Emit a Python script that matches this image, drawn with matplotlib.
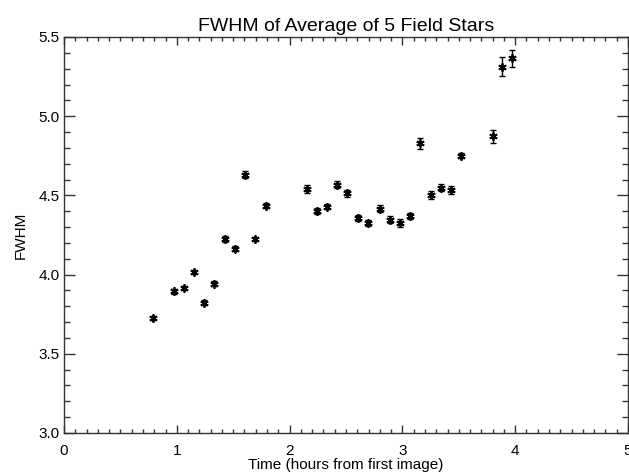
import matplotlib
matplotlib.use("Agg")
import matplotlib.pyplot as plt
from matplotlib.ticker import MultipleLocator

plt.rcParams['font.family'] = ['Liberation Sans', 'DejaVu Sans']

time_hours = [0.787, 0.975, 1.064, 1.155, 1.241, 1.333, 1.424, 1.513, 1.605, 1.696,
              1.788, 2.151, 2.240, 2.329, 2.417, 2.512, 2.602, 2.692, 2.801, 2.890,
              2.982, 3.070, 3.159, 3.251, 3.339, 3.431, 3.522, 3.800, 3.880, 3.969]
fwhm = [3.726, 3.894, 3.917, 4.014, 3.821, 3.943, 4.226, 4.163, 4.631, 4.226,
        4.436, 4.541, 4.400, 4.429, 4.568, 4.513, 4.356, 4.327, 4.415, 4.346,
        4.327, 4.369, 4.828, 4.503, 4.547, 4.536, 4.751, 4.872, 5.313, 5.366]
fwhm_err = [0.012, 0.014, 0.014, 0.013, 0.016, 0.018, 0.02, 0.016, 0.02, 0.012,
            0.016, 0.024, 0.02, 0.018, 0.024, 0.022, 0.02, 0.02, 0.022, 0.022,
            0.024, 0.02, 0.035, 0.024, 0.022, 0.026, 0.016, 0.041, 0.058, 0.054]

title = "FWHM of Average of 5 Field Stars"
xlabel = "Time (hours from first image)"
ylabel = "FWHM"

fig = plt.figure(figsize=(6.29, 4.74), dpi=100)
ax = fig.add_axes([64/629, 1 - 433/474, (628-64)/629, (433-37)/474])

ax.errorbar(time_hours, fwhm, yerr=fwhm_err, fmt='none', ecolor='black',
            elinewidth=1.0, capsize=2.5, capthick=1.0)
ax.plot(time_hours, fwhm, linestyle='none', marker=(6, 2, 0), markersize=6,
        markeredgewidth=1.3, color='black')

ax.set_xlim(0, 5)
ax.set_ylim(3.0, 5.5)
ax.xaxis.set_major_locator(MultipleLocator(1))
ax.xaxis.set_minor_locator(MultipleLocator(0.1))
ax.yaxis.set_major_locator(MultipleLocator(0.5))
ax.yaxis.set_minor_locator(MultipleLocator(0.1))
ax.set_xticklabels([]) if False else None
ax.xaxis.set_major_formatter(plt.FuncFormatter(lambda v, p: f"{v:.0f}"))
ax.yaxis.set_major_formatter(plt.FuncFormatter(lambda v, p: f"{v:.1f}"))

ax.tick_params(axis='x', which='major', direction='in', length=6, width=1,
               top=True, bottom=True, labelsize=11, pad=8, color='#333333')
ax.tick_params(axis='x', which='minor', direction='in', length=3, width=1,
               top=True, bottom=True, color='#333333')
ax.tick_params(axis='y', which='major', direction='in', length=8, width=1,
               left=True, right=True, labelsize=11, pad=3, color='#333333')
ax.tick_params(axis='y', which='minor', direction='in', length=4.5, width=1,
               left=True, right=True, color='#333333')
for s in ax.spines.values():
    s.set_linewidth(1.0)
    s.set_color('#333333')

ax.set_title(title, fontsize=14, pad=4)
ax.set_xlabel(xlabel, fontsize=11, labelpad=0)
ax.set_ylabel(ylabel, fontsize=11, labelpad=8)

fig.savefig("out.png", dpi=100)
